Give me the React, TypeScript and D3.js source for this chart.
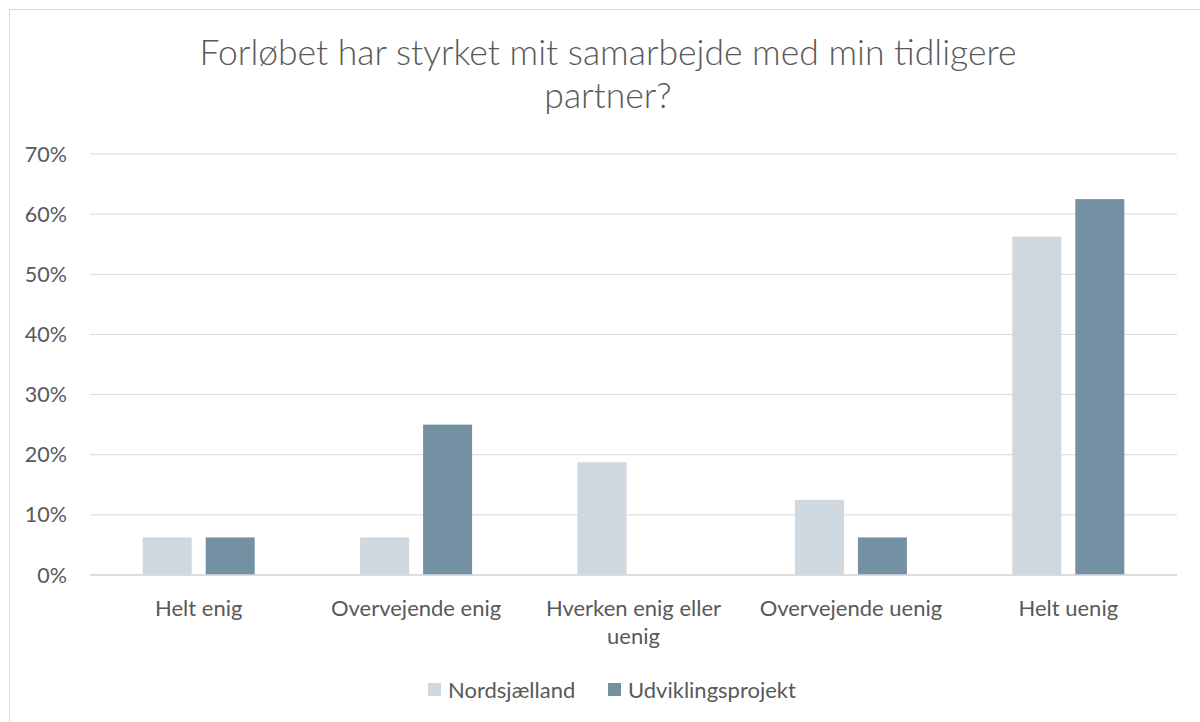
import React from "react";
import * as d3 from "d3";

const categories = ["Helt enig", "Overvejende enig", "Hverken enig eller uenig", "Overvejende uenig", "Helt uenig"];
const categoryLines = [["Helt enig"], ["Overvejende enig"], ["Hverken enig eller", "uenig"], ["Overvejende uenig"], ["Helt uenig"]];
const seriesNames = ["Nordsjælland", "Udviklingsprojekt"];
const nordsjaelland = [0.0625, 0.0625, 0.1875, 0.125, 0.5625];
const udviklingsprojekt = [0.0625, 0.25, 0, 0.0625, 0.625];
const yTicks = [0, 0.1, 0.2, 0.3, 0.4, 0.5, 0.6, 0.7];
const colors = ["#D0D8DF", "#7491A3"];

const W = 1200, H = 722;
const left = 90, right = 1177, top = 154, bottom = 575;
const font = "Lato, 'Open Sans', sans-serif";

export default function App() {
  const x = d3.scaleBand().domain(categories).range([left, right]);
  const y = d3.scaleLinear().domain([0, 0.7]).range([bottom, top]);
  const bw = 49, gap = 14;
  const series = [nordsjaelland, udviklingsprojekt];
  return (
    <svg width={W} height={H} style={{ position: "absolute", left: 0, top: 0, background: "#fff" }} fontFamily={font}>
      <rect x={0} y={0} width={W} height={H} fill="#fff" />
      <line x1={9.5} y1={9.5} x2={W} y2={9.5} stroke="#D9D9D9" />
      <line x1={9.5} y1={9.5} x2={9.5} y2={H} stroke="#D9D9D9" />
      <text x={608} y={65} textAnchor="middle" fontSize={35.5} fontWeight={300} fill="#595959">Forløbet har styrket mit samarbejde med min tidligere</text>
      <text x={608} y={108} textAnchor="middle" fontSize={35.5} fontWeight={300} fill="#595959">partner?</text>
      {yTicks.map((t) => (
        <g key={t}>
          <line x1={left} x2={right} y1={y(t)} y2={y(t)} stroke="#D9D9D9" strokeWidth={1} />
          <text x={67} y={y(t)} dy="0.35em" textAnchor="end" fontSize={21.5} fill="#595959">{d3.format(".0%")(t)}</text>
        </g>
      ))}
      {categories.map((c, i) => {
        const cx = (x(c) as number) + x.bandwidth() / 2;
        return (
          <g key={c}>
            {series.map((s, j) => {
              const bx = cx - gap / 2 - bw + j * (bw + gap);
              return <rect key={j} x={bx} width={bw} y={y(s[i])} height={y(0) - y(s[i])} fill={colors[j]} />;
            })}
            {categoryLines[i].map((l, k) => (
              <text key={k} x={cx} y={608 + k * 28} dy="0.35em" textAnchor="middle" fontSize={22} fill="#595959">{l}</text>
            ))}
          </g>
        );
      })}
      <line x1={left} x2={right} y1={y(0)} y2={y(0)} stroke="#D9D9D9" strokeWidth={1.5} />
      {seriesNames.map((n, j) => {
        const lx = [428, 608][j];
        return (
          <g key={n}>
            <rect x={lx} y={683} width={13} height={13} fill={colors[j]} />
            <text x={lx + 20} y={690} dy="0.35em" fontSize={22} fill="#595959">{n}</text>
          </g>
        );
      })}
    </svg>
  );
}
